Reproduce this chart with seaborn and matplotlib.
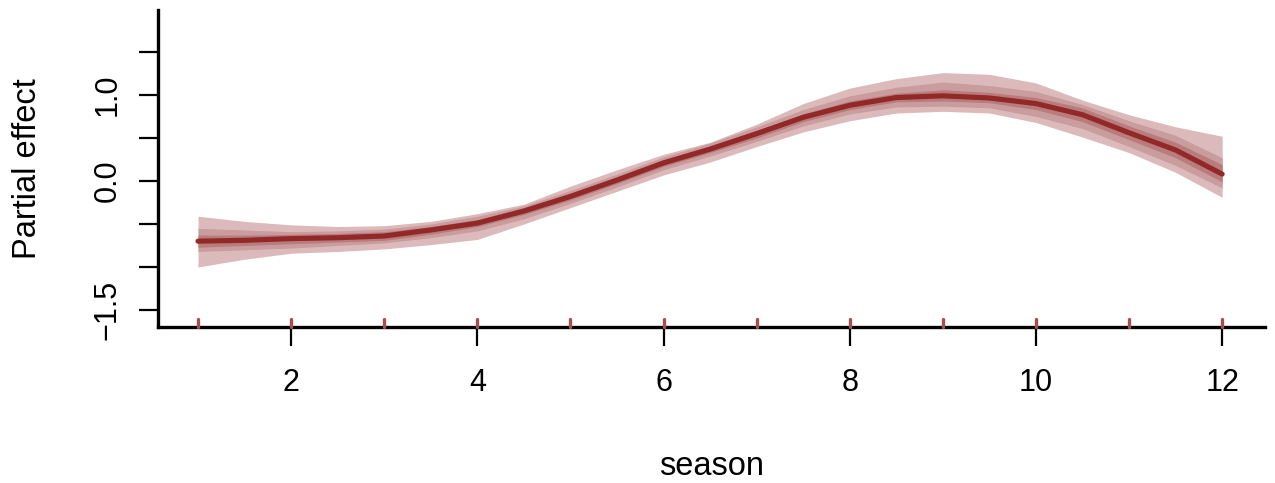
import numpy as np
import pandas as pd
import matplotlib
matplotlib.use("Agg")
import matplotlib.pyplot as plt
import seaborn as sns

# ---- data ----
season = [1, 1.5, 2, 2.5, 3, 3.5, 4, 4.5, 5, 5.5, 6, 6.5, 7, 7.5, 8, 8.5, 9, 9.5, 10, 10.5, 11, 11.5, 12]
effect = [-0.70, -0.69, -0.67, -0.66, -0.64, -0.57, -0.49, -0.35, -0.18, 0.01, 0.21, 0.37, 0.55, 0.74,
          0.88, 0.97, 0.99, 0.965, 0.90, 0.77, 0.56, 0.36, 0.08]
outer_lo = [-1.00, -0.91, -0.84, -0.82, -0.79, -0.74, -0.68, -0.50, -0.31, -0.12, 0.07, 0.22, 0.40, 0.57,
            0.70, 0.79, 0.81, 0.79, 0.68, 0.51, 0.33, 0.10, -0.19]
outer_hi = [-0.41, -0.47, -0.51, -0.53, -0.52, -0.47, -0.38, -0.27, -0.06, 0.13, 0.31, 0.45, 0.66, 0.90,
            1.08, 1.19, 1.26, 1.24, 1.14, 0.94, 0.77, 0.63, 0.52]
mid_lo = [-0.82, -0.80, -0.78, -0.75, -0.72, -0.66, -0.58, -0.44, -0.26, -0.07, 0.13, 0.29, 0.46, 0.64,
          0.78, 0.86, 0.87, 0.85, 0.75, 0.61, 0.40, 0.18, -0.08]
mid_hi = [-0.55, -0.57, -0.59, -0.58, -0.56, -0.50, -0.41, -0.29, -0.11, 0.08, 0.28, 0.44, 0.63, 0.83,
          0.99, 1.09, 1.15, 1.11, 1.04, 0.89, 0.70, 0.53, 0.27]
inner_lo = [-0.77, -0.75, -0.73, -0.71, -0.69, -0.62, -0.53, -0.39, -0.22, -0.03, 0.17, 0.33, 0.50, 0.69,
            0.83, 0.92, 0.93, 0.91, 0.83, 0.69, 0.48, 0.27, -0.01]
inner_hi = [-0.63, -0.63, -0.62, -0.61, -0.59, -0.53, -0.45, -0.31, -0.14, 0.05, 0.25, 0.41, 0.59, 0.78,
            0.93, 1.02, 1.06, 1.03, 0.97, 0.85, 0.64, 0.45, 0.19]
rug_months = [1, 2, 3, 4, 5, 6, 7, 8, 9, 10, 11, 12]
x_ticks = [2, 4, 6, 8, 10, 12]
x_tick_labels = ["2", "4", "6", "8", "10", "12"]
y_ticks = [-1.5, -1.0, -0.5, 0.0, 0.5, 1.0, 1.5]
y_tick_labels = ["\u22121.5", "", "", "0.0", "", "1.0", ""]

df = pd.DataFrame({"season": season, "effect": effect})

sns.set_style("ticks")
plt.rcParams["font.family"] = ["Liberation Sans", "DejaVu Sans"]
plt.rcParams["text.color"] = "black"
plt.rcParams["axes.labelcolor"] = "black"
plt.rcParams["xtick.color"] = "black"
plt.rcParams["ytick.color"] = "black"

fig = plt.figure(figsize=(12.75, 4.83), dpi=100)
W, H = 1275, 483
ax = fig.add_axes([158 / W, 1 - 327 / H, (1265 - 158) / W, (327 - 10) / H])

ax.fill_between(season, outer_lo, outer_hi, color="#dcbabb", lw=0, zorder=1)
ax.fill_between(season, mid_lo, mid_hi, color="#c99c9d", lw=0, zorder=2)
ax.fill_between(season, inner_lo, inner_hi, color="#b97b7c", lw=0, zorder=3)
sns.lineplot(data=df, x="season", y="effect", ax=ax, color="#922828", lw=3.7,
             solid_capstyle="round", zorder=4)
sns.rugplot(x=rug_months, ax=ax, height=0.024, color="#a54f50", linewidth=2.4,
            clip_on=False, zorder=6)
ax.collections[-1].set_capstyle("round")
ax.collections[-1].set_linewidth(2.4)

ax.set_xlim(0.57, 12.46)
ax.set_ylim(-1.698, 1.988)
ax.set_xticks(x_ticks)
ax.set_xticklabels(x_tick_labels)
ax.set_yticks(y_ticks)
ax.set_yticklabels(y_tick_labels, rotation=90, va="center")

sns.despine(ax=ax)
for s in ["left", "bottom"]:
    ax.spines[s].set_linewidth(2.4)
    ax.spines[s].set_color("black")
    ax.spines[s].set_capstyle("projecting")
ax.tick_params(axis="both", length=13.5, width=1.6, color="black", labelcolor="black", labelsize=22)
ax.tick_params(axis="x", pad=16)
ax.tick_params(axis="y", pad=12)

ax.set_xlabel("season", fontsize=23.5, color="black")
ax.set_ylabel("Partial effect", fontsize=23.5, color="black")
ax.xaxis.set_label_coords(0.5, -0.39)
ax.yaxis.set_label_coords(-0.104, 0.5)
ax.grid(False)

fig.savefig("out.png", dpi=100, facecolor="white")
